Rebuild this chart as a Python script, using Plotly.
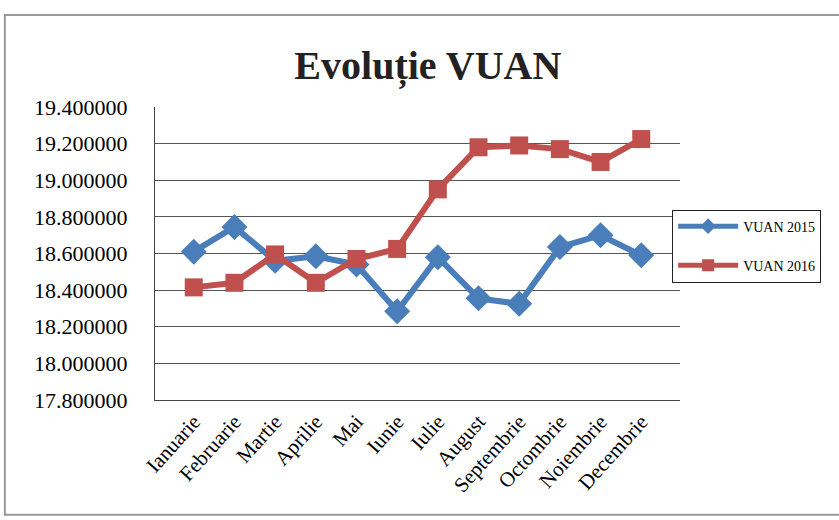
import plotly.graph_objects as go

# %% ============== Data =========
luni = ["Ianuarie", "Februarie", "Martie", "Aprilie", "Mai", "Iunie",
        "Iulie", "August", "Septembrie", "Octombrie", "Noiembrie", "Decembrie"]
vuan_2015 = [18.610, 18.745, 18.560, 18.585, 18.540, 18.285,
             18.580, 18.355, 18.325, 18.635, 18.700, 18.590]
vuan_2016 = [18.415, 18.440, 18.595, 18.440, 18.570, 18.625,
             18.950, 19.180, 19.190, 19.170, 19.100, 19.225]
y_ticks = [17.8, 18.0, 18.2, 18.4, 18.6, 18.8, 19.0, 19.2, 19.4]

serif = "Liberation Serif, Times New Roman, serif"

# %% ============== Figure =========
fig = go.Figure()
fig.add_trace(go.Scatter(x=luni, y=vuan_2015, name="VUAN 2015", mode="lines+markers",
                         legendgroup="a",
                         line=dict(color="#4A7EBB", width=6),
                         marker=dict(symbol="diamond", size=20, color="#4A7EBB")))
fig.add_trace(go.Scatter(x=luni, y=vuan_2016, name="VUAN 2016", mode="lines+markers",
                         legendgroup="b",
                         line=dict(color="#C0504D", width=6),
                         marker=dict(symbol="square", size=18, color="#C0504D")))

fig.update_layout(
    width=839, height=520,
    margin=dict(l=155, r=159, t=107, b=120),
    paper_bgcolor="white", plot_bgcolor="white",
    font=dict(family=serif, color="black"),
    title=dict(text="<b>Evoluție VUAN</b>", x=0.51, xanchor="center", y=0.875, yanchor="middle",
               font=dict(family=serif, size=40, color="#222")),
    showlegend=True,
    legend=dict(x=0.985, y=0.65, xanchor="left", yanchor="top",
                bordercolor="#222", borderwidth=1, bgcolor="white",
                font=dict(family=serif, size=14), itemwidth=60, tracegroupgap=18,
                itemsizing="constant"),
    shapes=[dict(type="rect", xref="paper", yref="paper",
                 x0=-0.286, x1=1.33, y0=-0.392, y1=1.314,
                 line=dict(color="#999", width=2))],
)
fig.update_xaxes(tickangle=-48, tickfont=dict(family=serif, size=21),
                 showline=True, linecolor="#444", linewidth=1, mirror=False,
                 showgrid=False, ticks="")
fig.update_yaxes(range=[17.8, 19.4], tickvals=y_ticks, tickformat=".6f",
                 tickfont=dict(family=serif, size=22), ticklabelstandoff=22,
                 showgrid=True, gridcolor="#555", gridwidth=1,
                 showline=True, linecolor="#444", linewidth=1, ticks="",
                 zeroline=False)

fig.write_html("out.html", config={"displayModeBar": False},
               post_script="document.body.style.margin='0';")
